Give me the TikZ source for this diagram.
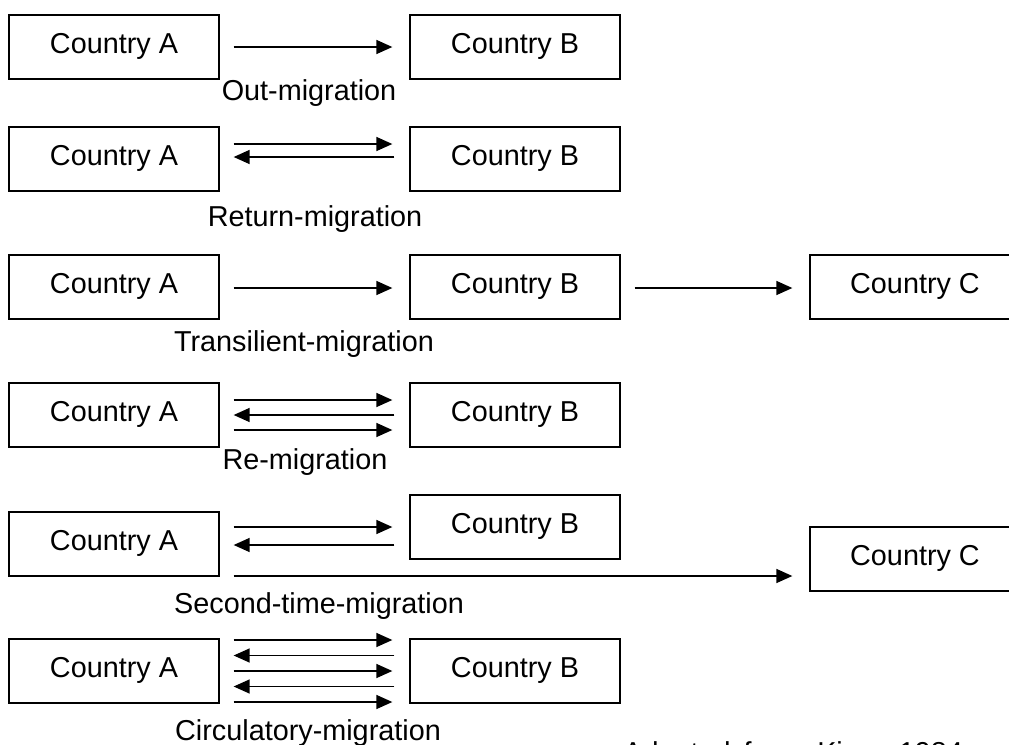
\documentclass[tikz,border=0pt]{standalone}
\usepackage{fontspec}
\setmainfont{Liberation Sans}
\usetikzlibrary{arrows.meta,calc}
\tikzset{
  box/.style={draw, line width=0.65pt, minimum width=105pt, inner xsep=0pt, inner ysep=0pt,
    text height=19pt, text depth=13pt, font=\fontsize{14.4}{17}\selectfont},
  arr/.style={line width=0.7pt, -{Triangle[length=8pt,width=7pt]}},
  lbl/.style={inner sep=0pt, anchor=base, font=\fontsize{14.4}{17}\selectfont},
}
\begin{document}
\begin{tikzpicture}[x=0.5pt,y=-0.5pt]
\useasboundingbox (0,0) rectangle (1009,745);
% Row 1: Out-migration
\node[box] (a1) at (114,47) {Country A};
\node[box] (b1) at (515,47) {Country B};
\draw[arr, shorten <=7pt, shorten >=8.5pt] (a1.east) -- (b1.west);
\node[lbl] (l1) at (309,100) {Out-migration};
% Row 2: Return-migration
\node[box] (a2) at (114,159) {Country A};
\node[box] (b2) at (515,159) {Country B};
\draw[arr] ($(a2.east)+(14,-15)$) -- ($(b2.west)+(-17,-15)$);
\draw[arr] ($(b2.west)+(-15,-2)$) -- ($(a2.east)+(14,-2)$);
\node[lbl] (l2) at (315,226) {Return-migration};
% Row 3: Transilient-migration
\node[box] (a3) at (114,287) {Country A};
\node[box] (b3) at (515,287) {Country B};
\node[box] (c3) at (915,287) {Country C};
\draw[arr] ($(a3.east)+(14,1)$) -- ($(b3.west)+(-17,1)$);
\draw[arr] ($(b3.east)+(14,1)$) -- ($(c3.west)+(-17,1)$);
\node[lbl] (l3) at (304,351) {Transilient-migration};
% Row 4: Re-migration
\node[box] (a4) at (114,415) {Country A};
\node[box] (b4) at (515,415) {Country B};
\draw[arr] ($(a4.east)+(14,-15)$) -- ($(b4.west)+(-17,-15)$);
\draw[arr] ($(b4.west)+(-15,0)$) -- ($(a4.east)+(14,0)$);
\draw[arr] ($(a4.east)+(14,15)$) -- ($(b4.west)+(-17,15)$);
\node[lbl] (l4) at (305,469) {Re-migration};
% Row 5: Second-time-migration
\node[box] (a5) at (114,544) {Country A};
\node[box] (b5) at (515,527) {Country B};
\node[box] (c5) at (915,559) {Country C};
\coordinate (a5t) at ($(a5.east)+(14,-17)$);
\coordinate (a5m) at ($(a5.east)+(14,1)$);
\coordinate (a5b) at ($(a5.east)+(14,32)$);
\draw[arr] (a5t) -- ($(a5t -| b5.west)+(-17,0)$);
\draw[arr] ($(b5.west)+(-15,18)$) -- (a5m);
\draw[arr] (a5b) -- ($(a5b -| c5.west)+(-17,0)$);
\node[lbl] (l5) at (319,613) {Second-time-migration};
% Row 6: Circulatory-migration
\node[box] (a6) at (114,671) {Country A};
\node[box] (b6) at (515,671) {Country B};
\draw[arr] ($(a6.east)+(14,-31)$) -- ($(b6.west)+(-17,-31)$);
\draw[arr] ($(b6.west)+(-15,-15.5)$) -- ($(a6.east)+(14,-15.5)$);
\draw[arr] ($(a6.east)+(14,0)$) -- ($(b6.west)+(-17,0)$);
\draw[arr] ($(b6.west)+(-15,15.5)$) -- ($(a6.east)+(14,15.5)$);
\draw[arr] ($(a6.east)+(14,31)$) -- ($(b6.west)+(-17,31)$);
\node[lbl] (l6) at (308,740) {Circulatory-migration};
% Source note (cut by the lower edge, as in the reference)
\node[lbl, anchor=base west] (src) at (623,762) {Adapted\hspace{6.5pt}from\hspace{8pt}King\hspace{12pt}1984};
\end{tikzpicture}
\end{document}
